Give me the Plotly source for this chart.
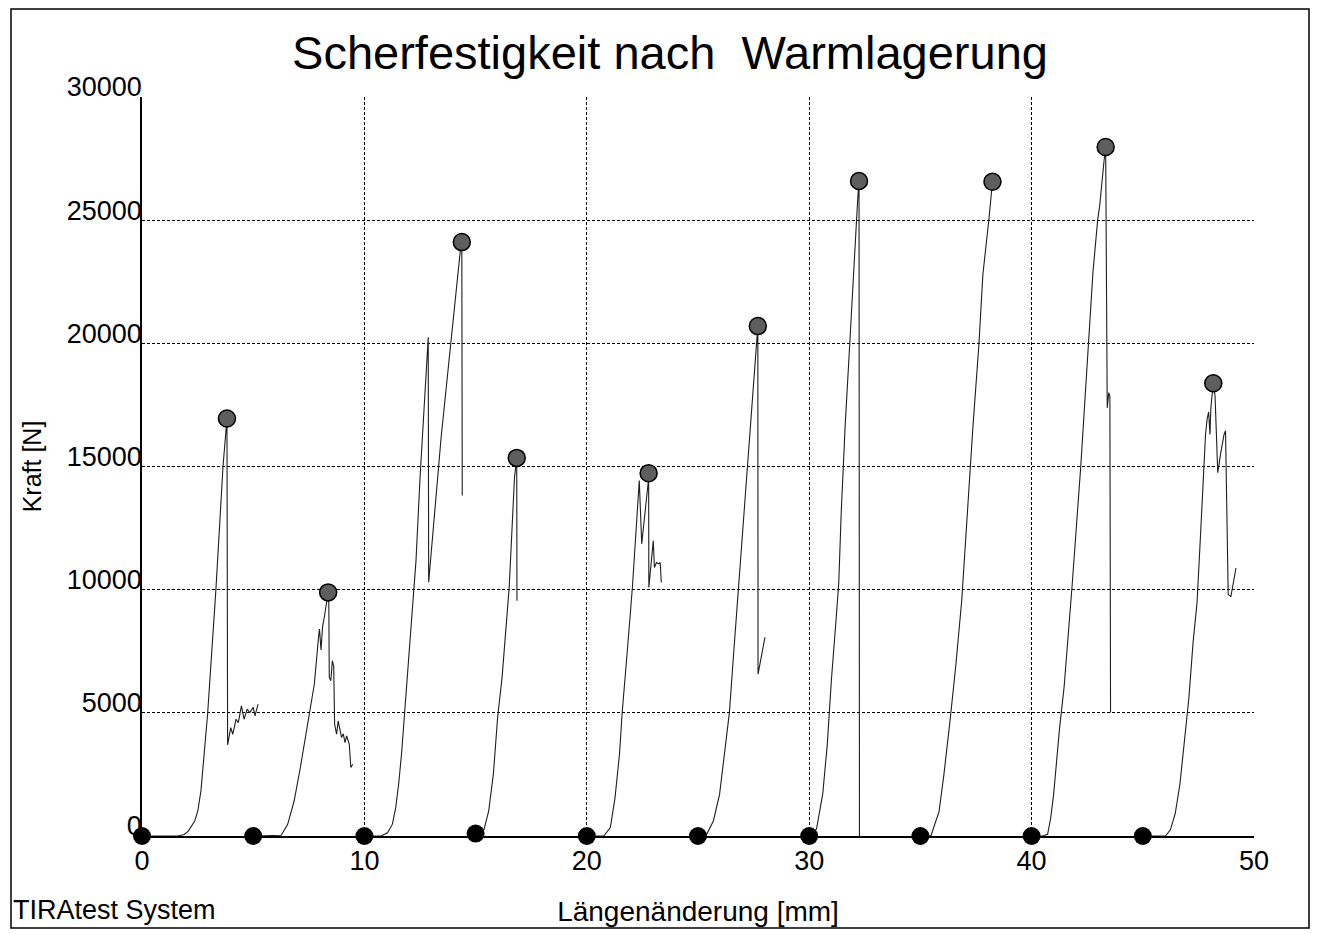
import plotly.graph_objects as go

# ---------------- data ----------------
x_ticks = [0, 10, 20, 30, 40, 50]
x_tick_labels = ["0", "10", "20", "30", "40", "50"]
y_ticks = [0, 5000, 10000, 15000, 20000, 25000, 30000]
y_tick_labels = ["0", "5000", "10000", "15000", "20000", "25000", "30000"]

spec1_x = [0, 1.6, 1.9, 2.08, 2.37, 2.51, 2.65, 2.78, 2.95, 3.32, 3.64, 3.82, 3.85, 3.99,
           4.08, 4.23, 4.33, 4.47, 4.59, 4.73, 4.85, 5.00, 5.08, 5.22]
spec1_y = [0, 0, 60, 200, 610, 1020, 1830, 3190, 4950, 9960, 14970, 16950, 3700, 4400,
           4130, 4740, 4600, 5280, 4740, 5150, 5010, 5220, 4880, 5350]

spec2_x = [5, 6.1, 6.26, 6.55, 6.84, 7.12, 7.40, 7.54, 7.75, 7.93, 7.98, 8.05, 8.12, 8.20,
           8.37, 8.40, 8.42, 8.49, 8.56, 8.62, 8.66, 8.75, 8.82, 8.97, 9.05, 9.13, 9.20,
           9.32, 9.39, 9.48]
spec2_y = [0, 0, 30, 475, 1420, 2780, 4270, 4880, 6170, 8000, 8400, 7550, 8500, 8900,
           9890, 9430, 6440, 6300, 7110, 6900, 4540, 4130, 4670, 4000, 4150, 3790, 4060,
           3730, 2780, 2910]

spec3_x = [10, 10.75, 11.04, 11.26, 11.41, 11.54, 11.67, 11.80, 11.93, 12.06, 12.19, 12.32,
           12.50, 12.87, 12.89, 13.45, 14.33, 14.38, 14.40]
spec3_y = [0, 0, 130, 480, 1160, 2110, 3330, 4880, 6710, 8200, 9830, 11180,
           14510, 20250, 10300, 16190, 23910, 24110, 13820]

spec4_x = [15, 15.1, 15.38, 15.59, 15.80, 15.99, 16.19, 16.38, 16.51, 16.75, 16.85, 16.86]
spec4_y = [100, 100, 270, 1020, 2520, 4810, 6440, 8740, 10090, 14560, 15350, 9550]

spec5_x = [20, 20.76, 21.06, 21.27, 21.47, 21.59, 21.82, 22.05, 22.36, 22.47, 22.77, 22.78,
           22.79, 22.99, 23.04, 23.13, 23.23, 23.30, 23.35]
spec5_y = [0, 0, 340, 1560, 3320, 5000, 7500, 10090, 14430, 11860, 14430, 14730,
           10090, 11990, 10900, 11100, 11050, 11100, 10290]

spec6_x = [25, 25.3, 25.39, 25.69, 25.97, 26.24, 26.41, 26.61, 26.81, 27.59, 27.69, 27.70, 28.01]
spec6_y = [0, 0, 70, 610, 1690, 3580, 5000, 7500, 10000, 19860, 20700, 6570, 8060]

spec7_x = [30, 30.1, 30.33, 30.61, 30.81, 31.00, 31.20, 31.33, 31.44, 31.62, 31.81, 31.99,
           32.18, 32.24, 32.26]
spec7_y = [0, 0, 290, 1720, 3680, 6360, 8690, 10290, 13150, 16720, 19760, 22980,
           25840, 26590, -100]

spec8_x = [35, 35.3, 35.48, 35.84, 36.05, 36.32, 36.59, 36.86, 37.11, 37.37, 37.63, 37.81,
           38.09, 38.20, 38.24]
spec8_y = [0, 0, 20, 1000, 2440, 4580, 6900, 9580, 13150, 16720, 19940, 22800,
           25120, 26190, 26560]

spec9_x = [40, 40.49, 40.72, 40.86, 40.99, 41.12, 41.26, 41.46, 41.65, 41.82, 42.21, 42.56,
           42.73, 42.76, 42.97, 43.06, 43.26, 43.33, 43.40, 43.47, 43.52, 43.55]
spec9_y = [0, 0, 70, 740, 1690, 3050, 4400, 6030, 8060, 10150, 15000, 20000,
           22780, 22900, 25000, 25570, 27430, 27970, 17380, 18000, 17850, 5010]

spec10_x = [45, 46.02, 46.24, 46.46, 46.67, 46.87, 47.07, 47.26, 47.44, 47.60, 47.74, 47.82,
            47.89, 47.96, 48.02, 48.06, 48.17, 48.25, 48.37, 48.44, 48.50, 48.65, 48.72,
            48.84, 48.96, 49.19]
spec10_y = [0, 0, 250, 920, 2110, 3720, 5580, 7850, 9490, 12300, 15000, 16290,
            16910, 17220, 16300, 17380, 18380, 17850, 14750, 15210, 15520, 16290, 16450,
            9800, 9720, 10880]

start_x = [0, 5, 10, 15, 20, 25, 30, 35, 40, 45]
start_y = [0, 0, 0, 100, 0, 0, 0, 0, 0, 0]

specimens = [(spec1_x, spec1_y), (spec2_x, spec2_y), (spec3_x, spec3_y), (spec4_x, spec4_y),
             (spec5_x, spec5_y), (spec6_x, spec6_y), (spec7_x, spec7_y), (spec8_x, spec8_y),
             (spec9_x, spec9_y), (spec10_x, spec10_y)]

# ---------------- figure ----------------
FONT = "Liberation Sans, Arial, Helvetica, sans-serif"
W, H = 1321, 934
L, R, T, B = 142, 67, 97, 98
PW, PH = W - L - R, H - T - B


def px_x(p):
    return (p - L) / PW


def px_y(p):
    return (H - B - p) / PH


fig = go.Figure()
for sx, sy in specimens:
    fig.add_trace(go.Scatter(x=sx, y=sy, mode="lines",
                             line=dict(color="#1e1e1e", width=1.1),
                             hoverinfo="skip", showlegend=False))

peak_x, peak_y = [], []
for sx, sy in specimens:
    i = max(range(len(sy)), key=lambda k: sy[k])
    peak_x.append(sx[i])
    peak_y.append(sy[i])

fig.add_trace(go.Scatter(x=start_x, y=start_y, mode="markers",
                         marker=dict(size=18, color="black"),
                         cliponaxis=False, showlegend=False, hoverinfo="skip"))
fig.add_trace(go.Scatter(x=peak_x, y=peak_y, mode="markers",
                         marker=dict(size=17, color="#5e5e5e",
                                     line=dict(color="black", width=1.5)),
                         cliponaxis=False, showlegend=False))

grid = dict(showgrid=True, gridcolor="black", gridwidth=1, griddash="3px,2px",
            zeroline=False, showline=True, linecolor="black", linewidth=1.5,
            ticks="", tickfont=dict(family=FONT, size=27, color="black"))

fig.update_layout(
    width=W, height=H,
    margin=dict(l=L, r=R, t=T, b=B, autoexpand=False),
    paper_bgcolor="white", plot_bgcolor="white",
    font=dict(family=FONT, color="black"),
    title=dict(text="Scherfestigkeit nach  Warmlagerung",
               font=dict(family=FONT, size=47, color="black"),
               x=670 / W, xref="container", xanchor="center",
               y=1 - 53 / H, yref="container", yanchor="middle"),
    xaxis=dict(range=[0, 50], tickvals=x_ticks, ticktext=x_tick_labels,
               title=dict(text="Längenänderung [mm]",
                          font=dict(family=FONT, size=28, color="black"), standoff=26),
               **grid),
    yaxis=dict(range=[0, 30000], tickvals=y_ticks, ticktext=y_tick_labels,
               ticklabelshift=-10, ticklabelstandoff=-7,
               title=dict(text="Kraft [N]",
                          font=dict(family=FONT, size=25, color="black"), standoff=18),
               **grid),
    annotations=[dict(text="TIRAtest System", xref="paper", yref="paper",
                      x=px_x(11), y=px_y(910), xanchor="left", yanchor="middle",
                      showarrow=False, font=dict(family=FONT, size=27, color="black"))],
    shapes=[dict(type="rect", xref="paper", yref="paper",
                 x0=px_x(11), x1=px_x(1309), y0=px_y(928), y1=px_y(9),
                 line=dict(color="black", width=1.5), layer="above")],
)

fig.write_html("out.html", config={"displayModeBar": False},
               post_script="document.body.style.margin='0';document.body.style.overflow='hidden';")
